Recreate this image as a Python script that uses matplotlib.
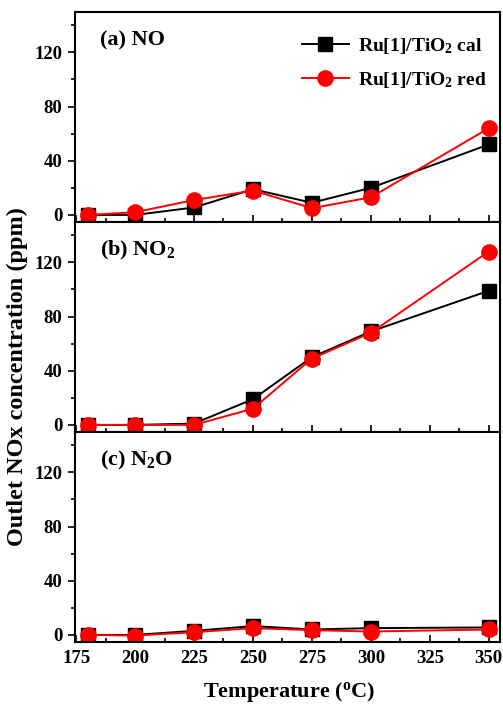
import matplotlib
matplotlib.use("Agg")
import matplotlib.pyplot as plt
from matplotlib.ticker import MultipleLocator

plt.rcParams['font.family'] = 'Liberation Serif'
plt.rcParams['font.weight'] = 'bold'
plt.rcParams['mathtext.fontset'] = 'custom'
plt.rcParams['mathtext.rm'] = 'Liberation Serif:bold'
plt.rcParams['mathtext.bf'] = 'Liberation Serif:bold'

temperature = [180, 200, 225, 250, 275, 300, 350]

no_cal = [0, 0, 5.5, 19, 9, 20, 52]
no_red = [0, 2, 11, 18, 5, 13, 64]
no2_cal = [0, 0, 1, 19, 50, 69, 99]
no2_red = [0, 0, 0, 12, 49, 68, 128]
n2o_cal = [0, 0, 3, 6.5, 4, 5, 5.5]
n2o_red = [0, -0.5, 2, 5, 3.5, 2.5, 4]

panel_labels = ["(a) NO", "(b) NO$\\mathregular{_2}$", "(c) N$\\mathregular{_2}$O"]
series_labels = ["Ru[1]/TiO$\\mathregular{_2}$ cal", "Ru[1]/TiO$\\mathregular{_2}$ red"]
yticks = [0, 40, 80, 120]
xticks = [175, 200, 225, 250, 275, 300, 325, 350]

fig = plt.figure(figsize=(5.03, 7.07), dpi=100)
left, width = 0.149, 0.846
bottom, height = 0.0924, 0.297

data = [(no_cal, no_red), (no2_cal, no2_red), (n2o_cal, n2o_red)]
axes = []
for i, (cal, red) in enumerate(data):
    ax = fig.add_axes([left, bottom + (2 - i) * height, width, height])
    axes.append(ax)
    ax.plot(temperature, cal, color='black', marker='s', markersize=9.5, lw=1.4,
            label=series_labels[0])
    ax.plot(temperature, red, color='red', marker='o', markersize=11, lw=1.4,
            label=series_labels[1])
    ax.set_xlim(174.5, 355)
    ax.set_ylim(-5, 150)
    ax.set_yticks(yticks)
    ax.yaxis.set_minor_locator(MultipleLocator(20))
    ax.set_xticks(xticks)
    ax.xaxis.set_minor_locator(MultipleLocator(12.5))
    ax.tick_params(axis='y', which='both', direction='out', labelsize=13.5, pad=4)
    ax.tick_params(axis='y', which='major', length=5, width=1.2)
    ax.tick_params(axis='y', which='minor', length=3, width=1.2)
    ax.tick_params(axis='x', which='both', direction='in', labelsize=13.5, pad=6)
    ax.tick_params(axis='x', which='major', length=5, width=1.2)
    ax.tick_params(axis='x', which='minor', length=3, width=1.2)
    for s in ax.spines.values():
        s.set_linewidth(1.5)
    ax.text(0.058, 0.84, panel_labels[i], transform=ax.transAxes, fontsize=16,
            fontweight='bold')
    if i < 2:
        ax.tick_params(axis='x', labelbottom=False)

axes[0].legend(loc='upper right', bbox_to_anchor=(1.01, 0.97), frameon=False,
               fontsize=14, handlelength=2.4, borderaxespad=0.5, labelspacing=0.75,
               handletextpad=0.5)
fig.text(0.575, 0.021, "Temperature ($\\mathregular{^o}$C)", fontsize=16,
         fontweight='bold', ha='center', va='center')
fig.text(0.034, 0.467, "Outlet NOx concentration (ppm)", rotation=90, fontsize=17.5,
         fontweight='bold', ha='center', va='center')

fig.savefig("out.png", dpi=100)
